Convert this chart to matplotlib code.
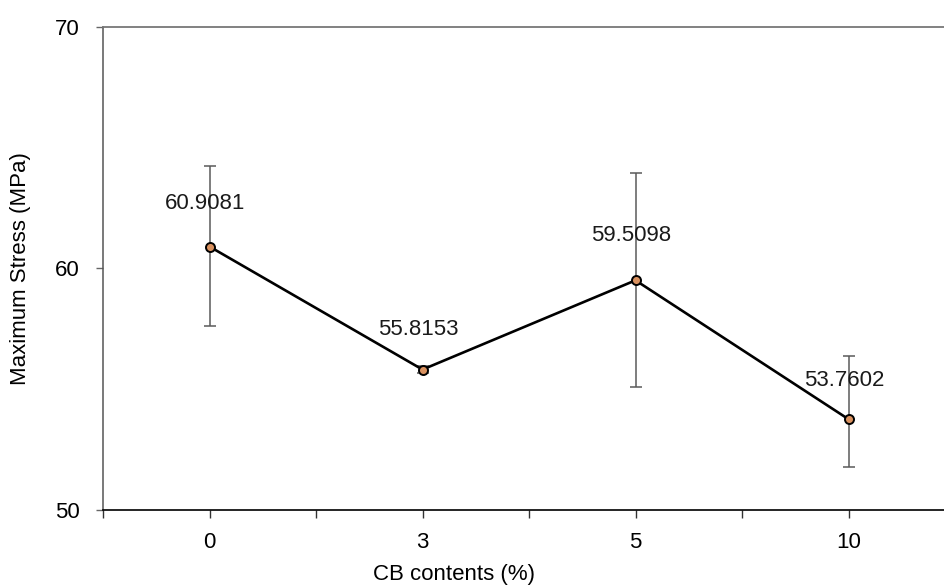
import matplotlib
matplotlib.use("Agg")
from matplotlib import pyplot as plt
import numpy as np

# data
categories = ["0", "3", "5", "10"]
stress = [60.9081, 55.8153, 59.5098, 53.7602]
err_low = [3.3, 0.15, 4.4, 2.0]
err_high = [3.35, 0.15, 4.43, 2.6]
labels = ["60.9081", "55.8153", "59.5098", "53.7602"]

plt.rcParams['font.family'] = ['Liberation Sans', 'DejaVu Sans']


def main():
    fig = plt.figure(figsize=(9.45, 5.86), dpi=100)
    ax = fig.add_axes([103 / 945, 76 / 586, 852 / 945, 483 / 586])

    x = np.arange(len(categories))
    ax.errorbar(x, stress, yerr=[err_low, err_high], fmt='none',
                ecolor='#5a5a5a', elinewidth=1.1, capsize=4.3, capthick=1.1,
                zorder=2)
    ax.plot(x, stress, color='black', lw=1.9, marker='o', markersize=6.5,
            markerfacecolor='#d9915f', markeredgecolor='black',
            markeredgewidth=1.4, zorder=3)

    offsets = [(-3, 31), (-3, 29), (-3, 32), (-3, 28)]
    for xi, yi, lab, off in zip(x, stress, labels, offsets):
        ax.annotate(lab, (xi, yi), xytext=off, textcoords='offset points',
                    ha='center', va='center', fontsize=16, color='#1a1a1a')

    ax.set_xlim(-0.5, 3.5)
    ax.set_ylim(50, 70)
    ax.set_yticks([50, 60, 70])
    ax.set_xticks(x)
    ax.set_xticklabels(categories)
    ax.set_xticks(np.arange(-0.5, 3.6, 1.0), minor=True)

    ax.tick_params(axis='x', which='both', direction='out', length=6,
                   width=1, color='#333333', labelsize=16, pad=10)
    ax.tick_params(axis='y', which='major', direction='out', length=5,
                   width=1, color='#666666', labelsize=16, pad=12)

    ax.spines['right'].set_visible(False)
    ax.spines['top'].set_color('#777777')
    ax.spines['top'].set_linewidth(1.3)
    ax.spines['left'].set_color('#555555')
    ax.spines['left'].set_linewidth(1.1)
    ax.spines['bottom'].set_color('black')
    ax.spines['bottom'].set_linewidth(1.2)

    ax.set_xlabel("CB contents (%)", fontsize=16)
    ax.set_ylabel("Maximum Stress (MPa)", fontsize=16)
    ax.xaxis.set_label_coords(0.412, -0.112)
    ax.yaxis.set_label_coords(-0.084, 0.5)

    fig.savefig('out.png', dpi=100)


if __name__ == "__main__":
    main()
